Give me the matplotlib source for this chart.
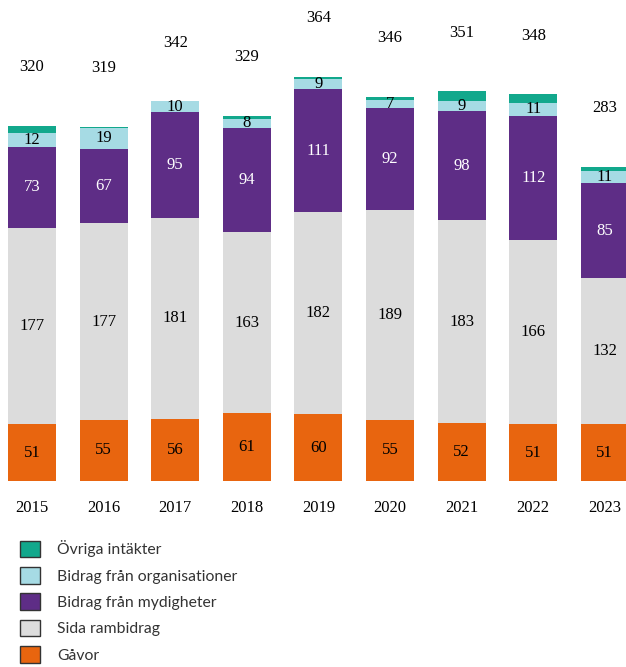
import matplotlib.pyplot as plt
from matplotlib.patches import Patch

years = ["2015", "2016", "2017", "2018", "2019", "2020", "2021", "2022", "2023"]
gavor = [51, 55, 56, 61, 60, 55, 52, 51, 51]
sida = [177, 177, 181, 163, 182, 189, 183, 166, 132]
myndigheter = [73, 67, 95, 94, 111, 92, 98, 112, 85]
organisationer = [12, 19, 10, 8, 9, 7, 9, 11, 11]
ovriga = [7, 1, 0, 3, 2, 3, 9, 8, 4]
totals = [320, 319, 342, 329, 364, 346, 351, 348, 283]

series = [
    ("Gåvor", gavor, "#e8650f", "black"),
    ("Sida rambidrag", sida, "#dcdcdc", "black"),
    ("Bidrag från mydigheter", myndigheter, "#5e2d86", "white"),
    ("Bidrag från organisationer", organisationer, "#a6dbe4", "black"),
    ("Övriga intäkter", ovriga, "#12a88c", None),
]

fig = plt.figure(figsize=(6.26, 6.67), dpi=100)
ax = fig.add_axes([0, 186 / 667, 1, 481 / 667])

x = list(range(len(years)))
bottom = [0] * len(years)
for name, vals, color, tcolor in series:
    ax.bar(x, vals, bottom=bottom, width=0.67, color=color, linewidth=0)
    if tcolor:
        for i, v in enumerate(vals):
            ax.text(i, bottom[i] + v / 2, str(v), ha="center", va="center",
                    color=tcolor, fontsize=12, family="Liberation Serif")
    bottom = [b + v for b, v in zip(bottom, vals)]

# totals above each bar
for i, t in enumerate(totals):
    ax.annotate(str(t), (i, t), xytext=(0, 42), textcoords="offset points",
                ha="center", va="center", fontsize=12, family="Liberation Serif")

ax.set_xlim(-0.447, 8.296)
ax.set_ylim(0, 433)
ax.axis("off")

for i, y in enumerate(years):
    fig.text((32 + 71.6 * i) / 626, 1 - 508 / 667, y, ha="center", va="center",
             fontsize=12, family="Liberation Serif")

handles = [Patch(facecolor=c, edgecolor="#333333", linewidth=1, label=n)
           for n, v, c, t in reversed(series)]
leg = fig.legend(handles=handles, loc="upper left", bbox_to_anchor=(0.022, 1 - 534 / 667),
                 frameon=False, prop={"family": "Lato", "size": 11.3},
                 handlelength=1.25, handleheight=1.25, handletextpad=1.1, labelspacing=0.62,
                 borderaxespad=0)
for txt in leg.get_texts():
    txt.set_color("#333333")

fig.savefig("out.png", dpi=100)
